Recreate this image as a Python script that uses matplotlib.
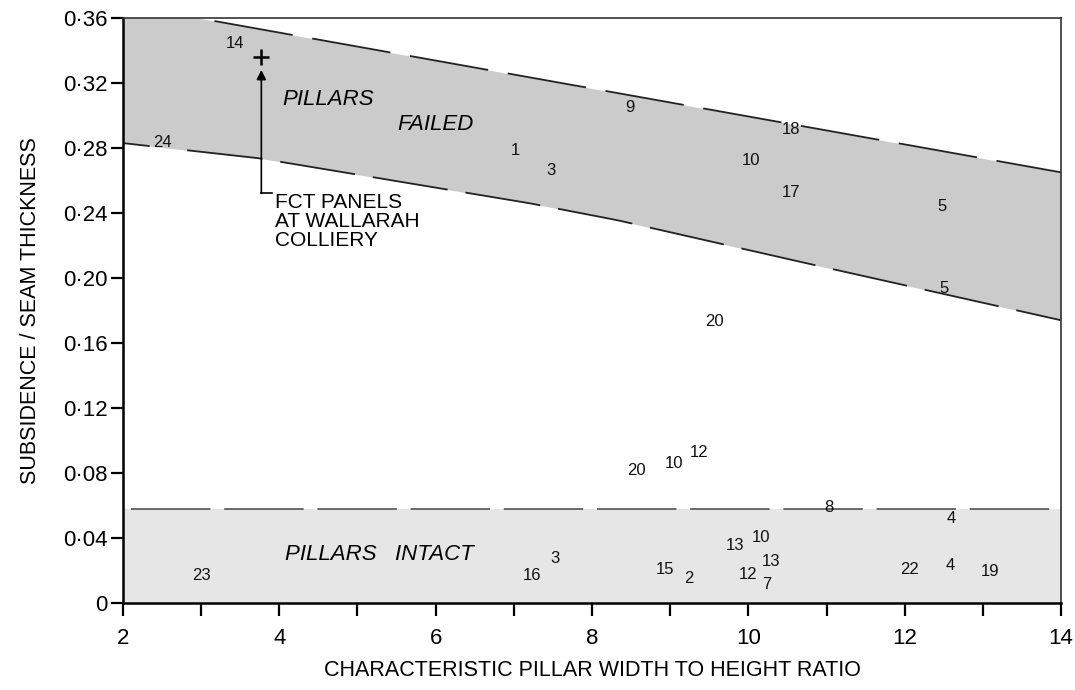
import matplotlib.pyplot as plt
import numpy as np

plt.rcParams['font.family'] = ['Liberation Sans', 'DejaVu Sans']

# band boundaries
fail_top_x = [2.0, 2.95, 14.0]
fail_top_y = [0.36, 0.36, 0.265]
fail_bot_x = [2.0, 3.75, 7.2, 8.32, 10.77, 14.0]
fail_bot_y = [0.283, 0.2736, 0.246, 0.2356, 0.2088, 0.174]
intact_top = 0.058

# case numbers plotted as text
case_labels = ['14', '24', '9', '1', '3', '18', '10', '17', '5', '5', '20',
               '20', '10', '12', '8', '4', '13', '10', '3', '13', '23', '16',
               '15', '2', '12', '7', '22', '4', '19']
case_x = [3.43, 2.50, 8.48, 7.02, 7.48, 10.55, 10.03, 10.54, 12.48, 12.50, 9.57,
          8.57, 9.05, 9.37, 11.03, 12.59, 9.83, 10.16, 7.53, 10.29, 3.00, 7.23,
          8.94, 9.24, 10.00, 10.24, 12.06, 12.58, 13.09]
case_y = [0.344, 0.2833, 0.305, 0.2783, 0.2664, 0.2915, 0.2722, 0.2524, 0.2438, 0.1934, 0.1732,
          0.0818, 0.0856, 0.0927, 0.0591, 0.052, 0.0357, 0.0404, 0.0275, 0.0255, 0.0167, 0.0167,
          0.0204, 0.0153, 0.0173, 0.0112, 0.0204, 0.023, 0.0194]

# Wallarah point
fct_x, fct_y = 3.77, 0.336

x_ticks = [2, 4, 6, 8, 10, 12, 14]
y_ticks = [0, 0.04, 0.08, 0.12, 0.16, 0.20, 0.24, 0.28, 0.32, 0.36]
y_tick_labels = ['0', '0·04', '0·08', '0·12', '0·16', '0·20', '0·24', '0·28', '0·32', '0·36']

fig = plt.figure(figsize=(10.75, 6.9), dpi=100)
ax = fig.add_axes([0.1144, 0.126, 0.8726, 0.848])

xx = np.linspace(2, 14, 300)
top = np.interp(xx, fail_top_x, fail_top_y)
bot = np.interp(xx, fail_bot_x, fail_bot_y)
ax.fill_between(xx, bot, top, color='#cbcbcb', lw=0, zorder=0)
ax.fill_between(xx, 0, intact_top, color='#e6e6e6', lw=0, zorder=0)

# dashed boundaries
xu = np.linspace(3.17, 14, 100)
ax.plot(xu, np.interp(xu, fail_top_x, fail_top_y), color='#222222', lw=1.3,
        ls=(0, (44, 11)))
xl1 = np.linspace(2, 2.33, 10)
ax.plot(xl1, np.interp(xl1, fail_bot_x, fail_bot_y), color='#222222', lw=1.3)
xl2 = np.linspace(2.82, 14, 100)
ax.plot(xl2, np.interp(xl2, fail_bot_x, fail_bot_y), color='#222222', lw=1.3,
        ls=(0, (42, 10)))
ax.plot([2.1, 14], [intact_top, intact_top], color='#444444', lw=1.1,
        ls=(0, (52, 9)))

for t, x, y in zip(case_labels, case_x, case_y):
    ax.text(x, y, t, fontsize=12, ha='center', va='center', color='#111111')

ax.plot(fct_x, fct_y, marker='+', color='black', ms=11, mew=1.8)
ax.annotate('', xy=(fct_x, 0.328), xytext=(fct_x, 0.252),
            arrowprops=dict(arrowstyle='-|>', color='black', lw=1.2,
                            mutation_scale=14, shrinkA=0, shrinkB=0))
ax.plot([fct_x, 3.9], [0.252, 0.252], color='black', lw=1.2)
ax.text(3.94, 0.2525, 'FCT PANELS\nAT WALLARAH\nCOLLIERY', fontsize=15,
        ha='left', va='top', linespacing=1.0)

ax.text(4.63, 0.310, 'PILLARS', fontsize=16, style='italic', ha='center', va='center')
ax.text(6.0, 0.2942, 'FAILED', fontsize=16, style='italic', ha='center', va='center')
ax.text(5.28, 0.030, 'PILLARS   INTACT', fontsize=16, style='italic', ha='center', va='center')

ax.set_xlim(2, 14)
ax.set_ylim(0, 0.36)
ax.set_xticks(x_ticks)
ax.set_xticks(np.arange(3, 14, 2), minor=True)
ax.set_yticks(y_ticks)
ax.set_yticklabels(y_tick_labels)
ax.tick_params(axis='both', which='both', direction='out', length=9, width=1.6,
               labelsize=16, color='black')
ax.tick_params(axis='x', pad=9)
ax.tick_params(axis='y', pad=2)
for side in ['left', 'bottom']:
    ax.spines[side].set_linewidth(1.8)
for side in ['top', 'right']:
    ax.spines[side].set_linewidth(1.2)
    ax.spines[side].set_color('#333333')

ax.set_xlabel('CHARACTERISTIC PILLAR WIDTH TO HEIGHT RATIO', fontsize=15.5, labelpad=8)
ax.set_ylabel('SUBSIDENCE / SEAM THICKNESS', fontsize=15.5, labelpad=16)

fig.savefig('out.png', dpi=100)
